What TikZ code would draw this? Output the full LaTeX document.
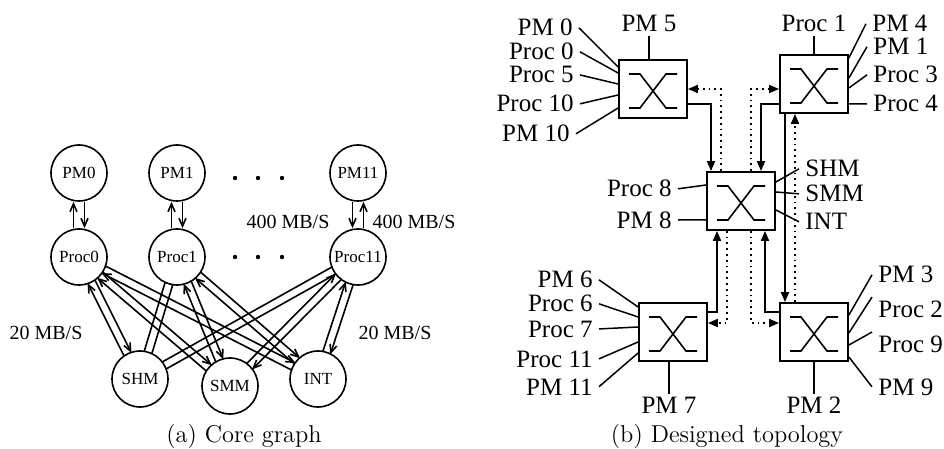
\documentclass[tikz,border=0pt]{standalone}
\usepackage{fontspec}
\newfontfamily\tms{Liberation Serif}
\usetikzlibrary{arrows.meta,calc}

% two opposite links between two cores
\newcommand{\duplex}[4]{%
  \draw[link,#3] ($(#1)!\gap!90:(#2)$) -- ($(#2)!\gap!-90:(#1)$);
  \draw[link,#4] ($(#1)!\gap!-90:(#2)$) -- ($(#2)!\gap!90:(#1)$);}

\begin{document}
\begin{tikzpicture}[x=0.5pt, y=-0.5pt, >={Straight Barb[length=4pt,width=3.5pt]},
  core/.style={circle, draw, line width=0.8pt, minimum size=28pt, inner sep=0pt,
    font=\tms\fontsize{8.5}{10}\selectfont},
  link/.style={line width=0.8pt, shorten <=13.6pt, shorten >=13.6pt},
  pmlink/.style={line width=0.8pt},
  rate/.style={anchor=base, font=\tms\fontsize{10}{12}\selectfont},
  xbar/.style={rectangle, draw, line width=0.9pt, minimum width=34pt, minimum height=29pt,
    path picture={\draw[line width=0.8pt]
      ([shift={(-12pt,7.5pt)}]path picture bounding box.center) -- ++(5.5pt,0pt) -- ++(13pt,-17pt) -- ++(5.5pt,0pt)
      ([shift={(12pt,7.5pt)}]path picture bounding box.center) -- ++(-5.5pt,0pt) -- ++(-13pt,-17pt) -- ++(-5.5pt,0pt);}},
  port/.style={font=\tms\fontsize{12.5}{14}\selectfont, inner xsep=3pt, inner ysep=1.5pt},
  pin/.style={line width=0.75pt},
  sw/.style={line width=0.9pt, -{Triangle[length=5pt,width=4pt]}},
  swd/.style={sw, dotted},
  caption/.style={anchor=base, inner sep=1pt, font=\fontsize{12.2}{14}\selectfont}]
  \def\gap{2pt}
  \useasboundingbox (0,0) rectangle (944,449);

  % (a) core graph
  \node[core] (PM0) at (79,173) {PM0};
  \node[core] (PM1) at (177,173) {PM1};
  \node[core] (PM11) at (358,173) {PM11};
  \node[core] (Proc0) at (79,257) {Proc0};
  \node[core] (Proc1) at (177,257) {Proc1};
  \node[core] (Proc11) at (358,257) {Proc11};
  \node[core] (SHM) at (140,379) {SHM};
  \node[core] (SMM) at (230,386) {SMM};
  \node[core] (INT) at (318,379) {INT};
  \foreach \y in {178,257}
    \foreach \x in {235,258,282}
      \fill (\x,\y) circle (1.1pt);
  % memory links
  \draw[pmlink,->] ([xshift=-2.75pt]Proc0.north) -- ([xshift=-2.75pt]PM0.south);
  \draw[pmlink,->] ([xshift=2.75pt]PM0.south) -- ([xshift=2.75pt]Proc0.north);
  \draw[pmlink,->] ([xshift=-2.75pt]Proc1.north) -- ([xshift=-2.75pt]PM1.south);
  \draw[pmlink,->] ([xshift=2.75pt]PM1.south) -- ([xshift=2.75pt]Proc1.north);
  \draw[pmlink,->] ([xshift=-2.75pt]PM11.south) -- ([xshift=-2.75pt]Proc11.north);
  \draw[pmlink,->] ([xshift=2.75pt]Proc11.north) -- ([xshift=2.75pt]PM11.south);
  % shared links
  \duplex{Proc0}{SHM}{->}{<-}
  \duplex{Proc0}{SMM}{->}{<-}
  \duplex{Proc0}{INT}{->}{<-}
  \duplex{Proc1}{SHM}{-}{-}
  \duplex{Proc1}{SMM}{->}{<-}
  \duplex{Proc1}{INT}{->}{<-}
  \duplex{Proc11}{SHM}{-}{-}
  \duplex{Proc11}{SMM}{->}{<-}
  \duplex{Proc11}{INT}{->}{<-}
  \node[rate] (bwA) at (288,228) {400 MB/S};
  \node[rate] (bwB) at (414,228) {400 MB/S};
  \node[rate] (bwC) at (46,339) {20 MB/S};
  \node[rate] (bwD) at (395,339) {20 MB/S};
  \node[caption] (capA) at (244,442) {(a) Core graph};

  % (b) designed topology
  \node[xbar] (xbarNW) at (653,89) {};
  \node[xbar] (xbarNE) at (814,84) {};
  \node[xbar] (xbarC) at (741,201) {};
  \node[xbar] (xbarSW) at (673,332) {};
  \node[xbar] (xbarSE) at (814,332) {};
  % ports
  \node[port, anchor=base] (tPM5) at (649,32) {PM 5};
  \node[port, anchor=base east] (tPM0) at (579,36) {PM 0};
  \node[port, anchor=base east] (tProc0) at (580,60) {Proc 0};
  \node[port, anchor=base east] (tProc5) at (580,83) {Proc 5};
  \node[port, anchor=base east] (tProc10) at (580,112) {Proc 10};
  \node[port, anchor=base east] (tPM10) at (576,142) {PM 10};
  \node[port, anchor=base] (tProc1) at (814,32) {Proc 1};
  \node[port, anchor=base west] (tPM4) at (866,32) {PM 4};
  \node[port, anchor=base west] (tPM1) at (867,55) {PM 1};
  \node[port, anchor=base west] (tProc3) at (867,83) {Proc 3};
  \node[port, anchor=base west] (tProc4) at (867,112) {Proc 4};
  \node[port, anchor=base east] (tProc8) at (678,197) {Proc 8};
  \node[port, anchor=base east] (tPM8) at (678,228) {PM 8};
  \node[port, anchor=base west] (tSHM) at (799,177) {SHM};
  \node[port, anchor=base west] (tSMM) at (799,202) {SMM};
  \node[port, anchor=base west] (tINT) at (799,230) {INT};
  \node[port, anchor=base east] (tPM6) at (599,288) {PM 6};
  \node[port, anchor=base east] (tProc6) at (599,312) {Proc 6};
  \node[port, anchor=base east] (tProc7) at (599,337) {Proc 7};
  \node[port, anchor=base east] (tProc11) at (599,367) {Proc 11};
  \node[port, anchor=base east] (tPM11) at (599,395) {PM 11};
  \node[port, anchor=base] (tPM7) at (669,414) {PM 7};
  \node[port, anchor=base west] (tPM3) at (872,283) {PM 3};
  \node[port, anchor=base west] (tProc2) at (872,317) {Proc 2};
  \node[port, anchor=base west] (tProc9) at (872,352) {Proc 9};
  \node[port, anchor=base west] (tPM9) at (872,395) {PM 9};
  \node[port, anchor=base] (tPM2) at (814,414) {PM 2};
  % port wires
  \draw[pin] (tPM5.south) -- ($(xbarNW.north)+(-4,0)$);
  \draw[pin] (tPM0.east) -- ($(xbarNW.west)+(0,-22)$);
  \draw[pin] (tProc0.east) -- ($(xbarNW.west)+(0,-16)$);
  \draw[pin] (tProc5.east) -- ($(xbarNW.west)+(0,-5)$);
  \draw[pin] (tProc10.east) -- ($(xbarNW.west)+(0,6)$);
  \draw[pin] (tPM10.east) -- ($(xbarNW.west)+(0,19)$);
  \draw[pin] (tProc1.south) -- (xbarNE.north);
  \draw[pin] (tPM4.west) -- ($(xbarNE.east)+(0,-26)$);
  \draw[pin] (tPM1.west) -- ($(xbarNE.east)+(0,-6)$);
  \draw[pin] (tProc3.west) -- ($(xbarNE.east)+(0,4)$);
  \draw[pin] (tProc4.west) -- ($(xbarNE.east)+(0,20)$);
  \draw[pin] (tProc8.east) -- ($(xbarC.west)+(0,-16)$);
  \draw[pin] (tPM8.east) -- ($(xbarC.west)+(0,19)$);
  \draw[pin] (tSHM.west) -- ($(xbarC.east)+(0,-19)$);
  \draw[pin] (tSMM.west) -- ($(xbarC.east)+(0,-9)$);
  \draw[pin] (tINT.west) -- ($(xbarC.east)+(0,9)$);
  \draw[pin] (tPM6.east) -- ($(xbarSW.west)+(0,-25)$);
  \draw[pin] (tProc6.east) -- ($(xbarSW.west)+(0,-15)$);
  \draw[pin] (tProc7.east) -- ($(xbarSW.west)+(0,-5)$);
  \draw[pin] (tProc11.east) -- ($(xbarSW.west)+(0,10)$);
  \draw[pin] (tPM11.east) -- ($(xbarSW.west)+(0,21)$);
  \draw[pin] (tPM7.north) -- ($(xbarSW.south)+(-4,0)$);
  \draw[pin] (tPM3.west) -- ($(xbarSE.east)+(0,-17)$);
  \draw[pin] (tProc2.north west) -- ($(xbarSE.east)+(0,1)$);
  \draw[pin] (tProc9.north west) -- ($(xbarSE.east)+(0,13)$);
  \draw[pin] (tPM9.west) -- ($(xbarSE.east)+(0,25)$);
  \draw[pin] (tPM2.north) -- (xbarSE.south);
  % switch to switch links, dotted = reverse direction
  \draw[sw] ($(xbarNW.east)+(0,15)$) -| ($(xbarC.north)+(-30,0)$);
  \draw[swd] ($(xbarC.north)+(-20,0)$) |- (xbarNW.east);
  \draw[swd] ($(xbarC.north)+(10,0)$) |- ($(xbarNE.west)+(0,5)$);
  \draw[sw] ($(xbarNE.west)+(0,20)$) -| ($(xbarC.north)+(20,0)$);
  \draw[sw] ($(xbarNE.south)+(-29,0)$) -- ($(xbarSE.north)+(-29,0)$);
  \draw[swd] ($(xbarSE.north)+(-19,0)$) -- ($(xbarNE.south)+(-19,0)$);
  \draw[sw] ($(xbarSW.east)+(0,-20)$) -| ($(xbarC.south)+(-24,0)$);
  \draw[swd] ($(xbarC.south)+(-14,0)$) |- ($(xbarSW.east)+(0,-9)$);
  \draw[swd] ($(xbarC.south)+(10,0)$) |- ($(xbarSE.west)+(0,-9)$);
  \draw[sw] ($(xbarSE.west)+(0,-20)$) -| ($(xbarC.south)+(24,0)$);
  \node[caption] (capB) at (727,442) {(b) Designed topology};
\end{tikzpicture}
\end{document}
